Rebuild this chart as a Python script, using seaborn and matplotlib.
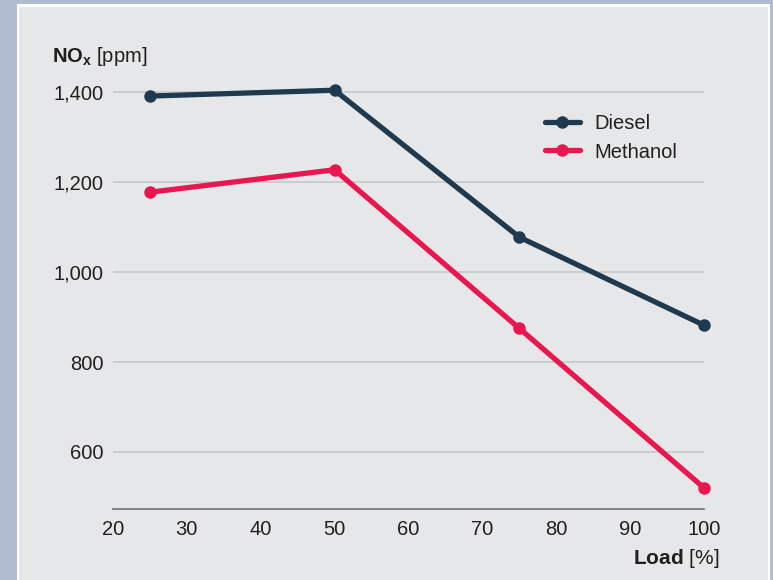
import pandas as pd
import seaborn as sns
import matplotlib.pyplot as plt
from matplotlib.patches import Rectangle
from matplotlib.ticker import FuncFormatter

sns.set_theme(style="white")
plt.rcParams["font.family"] = ["Liberation Sans", "DejaVu Sans"]
plt.rcParams["mathtext.fontset"] = "custom"
plt.rcParams["mathtext.rm"] = "Liberation Sans"
plt.rcParams["mathtext.bf"] = "Liberation Sans:bold"

# data
load = [25, 50, 75, 100]
diesel = [1392, 1405, 1078, 882]
methanol = [1178, 1228, 875, 520]
fuels = ["Diesel", "Methanol"]
colors = {"Diesel": "#1f3a4f", "Methanol": "#e8174f"}

df = pd.DataFrame({
    "load": load * 2,
    "nox": diesel + methanol,
    "fuel": [fuels[0]] * 4 + [fuels[1]] * 4,
})

txt = "#231f20"
fig = plt.figure(figsize=(7.73, 5.80), dpi=100, facecolor="#b0bdd1")
fig.patches.append(Rectangle((17 / 773, 0), 753 / 773, 1 - 4 / 580, transform=fig.transFigure,
                             facecolor="white", edgecolor="none", zorder=-2))
fig.patches.append(Rectangle((19 / 773, 0), 749 / 773, 1 - 7 / 580, transform=fig.transFigure,
                             facecolor="#e6e7e8", edgecolor="none", zorder=-1))

ax = fig.add_axes([113 / 773, 71 / 580, 591 / 773, 439 / 580])
ax.set_zorder(2)
ax.set_facecolor("none")

sns.lineplot(data=df, x="load", y="nox", hue="fuel", palette=colors, ax=ax,
             marker="o", markersize=9, linewidth=3.8, markeredgewidth=0, legend=True)
for ln in ax.get_lines():
    ln.set_clip_on(False)

ax.set_xlim(20, 100)
ax.set_ylim(473, 1450)
ax.set_xticks(range(20, 101, 10))
ax.set_yticks([600, 800, 1000, 1200, 1400])
ax.yaxis.set_major_formatter(FuncFormatter(lambda v, p: f"{int(v):,}"))
ax.tick_params(axis="both", length=0, labelsize=14.5, labelcolor=txt)
ax.tick_params(axis="x", pad=8)
ax.tick_params(axis="y", pad=7)
ax.grid(axis="y", color="#c9cacb", linewidth=1.3)
ax.set_axisbelow(True)
for s in ["top", "right", "left"]:
    ax.spines[s].set_visible(False)
ax.spines["bottom"].set_color("#7a7a7a")
ax.spines["bottom"].set_linewidth(1.3)

ax.set(xlabel="", ylabel="")
fig.text(52 / 773, 1 - 57 / 580, r"$\mathbf{NO_x}$ [ppm]", fontsize=14.5, color=txt, va="center")
fig.text(719 / 773, 1 - 558 / 580, r"$\mathbf{Load}$ [%]", fontsize=15, color=txt,
         va="center", ha="right")

sns.move_legend(ax, "upper left", bbox_to_anchor=(0.7, 0.94), title=None, frameon=False,
                fontsize=14.5, handlelength=1.75, labelspacing=0.45, handletextpad=0.7)
for t in ax.get_legend().get_texts():
    t.set_color(txt)

fig.savefig("out.png", dpi=100, facecolor=fig.get_facecolor())
